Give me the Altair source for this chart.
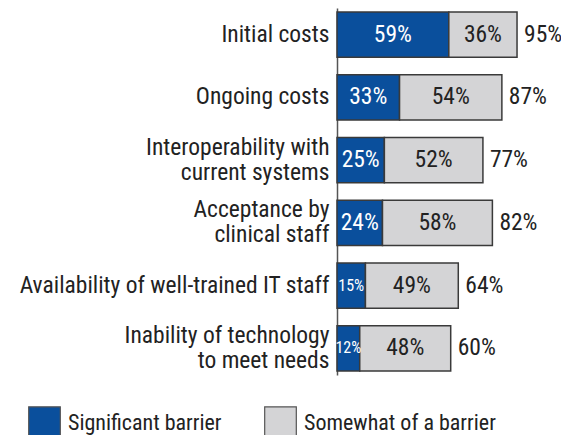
import altair as alt
import pandas as pd

categories = ["Initial costs", "Ongoing costs", "Interoperability with|current systems",
              "Acceptance by|clinical staff", "Availability of well-trained IT staff",
              "Inability of technology|to meet needs"]
significant = [59, 33, 25, 24, 15, 12]
somewhat = [36, 54, 52, 58, 49, 48]
totals = [95, 87, 77, 82, 64, 60]
series = ["Significant barrier", "Somewhat of a barrier"]

rows = []
for c, s, w in zip(categories, significant, somewhat):
    rows.append({"category": c, "series": series[0], "value": s, "order": 0})
    rows.append({"category": c, "series": series[1], "value": w, "order": 1})
df = pd.DataFrame(rows)
tot = pd.DataFrame({"category": categories, "total": totals})

FONT = "Roboto Condensed"
BLUE = "#0A4F9C"
GRAY = "#D4D4D6"
DARK = "#222222"

xscale = alt.Scale(domain=[0, 118.2], nice=False, zero=True)
yenc = alt.Y("category:N", sort=categories,
             scale=alt.Scale(paddingInner=0.28, paddingOuter=0.064),
             axis=alt.Axis(title=None, ticks=False, domain=True, domainColor="#555555",
                           domainWidth=1.5, labelFontSize=23.5, labelColor=DARK,
                           labelFont=FONT, labelPadding=8, labelLineHeight=25,
                           labelLimit=400,
                           labelOffset={"condition": {"test": "indexof(datum.value, '|') >= 0",
                                                      "value": -12.5}, "value": 0},
                           labelExpr="split(datum.value, '|')"))

base = alt.Chart(df).transform_stack(
    stack="value", groupby=["category"], as_=["x0", "x1"],
    sort=[alt.SortField("order", order="ascending")]
).transform_calculate(mid="(datum.x0 + datum.x1) / 2",
                      lbl="datum.value + '%'")

bars = base.mark_bar(stroke="#3a3a3a", strokeWidth=1.5).encode(
    x=alt.X("x0:Q", scale=xscale, axis=None),
    x2="x1:Q",
    y=yenc,
    color=alt.Color("series:N", scale=alt.Scale(domain=series, range=[BLUE, GRAY]),
                    legend=alt.Legend(title=None, orient="none", legendX=-309, legendY=398,
                                      direction="horizontal", symbolType="square",
                                      symbolSize=1000, symbolStrokeColor="#555555",
                                      symbolStrokeWidth=1.2, symbolOpacity=1,
                                      labelFontSize=22, labelFont=FONT, labelColor=DARK,
                                      labelOffset=7, columnPadding=40, labelLimit=400)),
)

labels = base.mark_text(font=FONT, baseline="middle").encode(
    x=alt.X("mid:Q", scale=xscale),
    y=alt.Y("category:N", sort=categories),
    text="lbl:N",
    color=alt.condition("datum.order == 0", alt.value("white"), alt.value(DARK)),
    size=alt.condition("datum.value < 20", alt.value(16), alt.value(23.5)),
)

tlabels = alt.Chart(tot).transform_calculate(lbl="datum.total + '%'").mark_text(
    fontSize=23.5, font=FONT, align="left", baseline="middle", dx=7, color=DARK
).encode(
    x=alt.X("total:Q", scale=xscale),
    y=alt.Y("category:N", sort=categories),
    text="lbl:N",
)

chart = alt.layer(bars, labels, tlabels).properties(
    width=224, height=367,
    autosize=alt.AutoSizeParams(type="none"),
    padding={"left": 329, "top": 0, "right": 0, "bottom": 60},
).configure_view(stroke=None)

chart.save("out.html", embed_options={"renderer": "svg", "actions": False})
